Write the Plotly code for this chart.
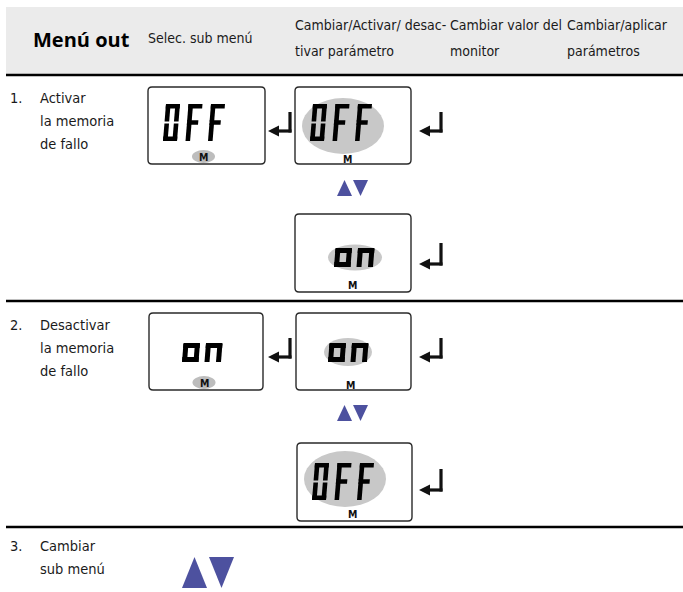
import plotly.graph_objects as go

# ---------------- data (texts / states) ----------------
title_label = "Menú out"
column_labels = [
    ["Selec. sub menú"],
    ["Cambiar/Activar/ desac-", "tivar parámetro"],
    ["Cambiar valor del", "monitor"],
    ["Cambiar/aplicar", "parámetros"],
]
row_numbers = ["1.", "2.", "3."]
row_labels = [
    ["Activar", "la memoria", "de fallo"],
    ["Desactivar", "la memoria", "de fallo"],
    ["Cambiar", "sub menú"],
]
display_values = ["OFF", "OFF", "on", "on", "on", "OFF"]
display_highlight = ["M", "value", "value", "M", "value", "value"]
indicator_label = "M"

# ---------------- layout constants ----------------
W, H = 683, 592
NARROW = "Liberation Sans Narrow, DejaVu Sans Condensed, Arial Narrow, sans-serif"
TXT = "#1a1a1a"
GRAY_BAND = "#ebebeb"
ELL = "#c8c8c8"
TRI = "#4d519f"

display_layout = [
    dict(box=(148, 87, 265, 164), tx=163, ty=141, ell=(203.5, 156.5, 11.5, 6.5), m=(203.5, 157)),
    dict(box=(295, 87, 411, 164), tx=310, ty=141, ell=(343, 126, 41, 28), m=(347, 159)),
    dict(box=(295, 214, 411, 292), tx=334, ty=267, ell=(355, 257.5, 27, 13), m=(352, 285)),
    dict(box=(149, 313, 263, 390), tx=182, ty=362, ell=(204, 382.5, 11.5, 6.5), m=(204, 383)),
    dict(box=(296, 313, 411, 390), tx=328, ty=362, ell=(348, 352, 24, 14), m=(350, 385)),
    dict(box=(297, 443, 412, 521), tx=312, ty=500, ell=(345, 479, 41, 28), m=(352, 514)),
]
enter_layout = [(290, 112, 131), (441, 112, 131), (441, 243, 264),
                (290, 338, 357), (441, 338, 357), (441, 469, 490)]
tri_layout = [(337, 180, 15, 16, 1), (337, 405, 15, 16, 1), (182, 557, 25, 31, 2)]
sep_lines = [75, 301, 527]

SEGS = {"O": "abcdef", "F": "aefg", "o": "cdeg", "n": "ceg"}

shapes = []
annotations = []


def poly(pts, color):
    d = "M " + " L ".join(f"{x:.2f},{y:.2f}" for x, y in pts) + " Z"
    shapes.append(dict(type="path", path=d, fillcolor=color, line=dict(width=0),
                       xref="x", yref="y"))


def glyph(ch, x0, ybot, w, h, t, sl):
    ytop = ybot - h
    g = 0.9

    def tr(u, v):
        return (x0 + u + sl * (h - v) / h, ytop + v)

    rects = {
        "a": (0, w, 0, t),
        "b": (w - t, w, 0, h / 2 - g),
        "c": (w - t, w, h / 2 + g, h),
        "d": (0, w, h - t, h),
        "e": (0, t, h / 2 + g, h),
        "f": (0, t, 0, h / 2 - g),
        "g": (0, w if ch != "F" else 0.8 * w, h / 2 - t / 2, h / 2 + t / 2),
    }
    if ch in ("o", "n"):
        rects["g"] = (0, w, h / 2, h / 2 + t)
    for s in SEGS[ch]:
        u1, u2, v1, v2 = rects[s]
        poly([tr(u1, v1), tr(u2, v1), tr(u2, v2), tr(u1, v2)], "#000000")


def rounded_box(x0, y0, x1, y1, r=4):
    p = (f"M {x0+r},{y0} L {x1-r},{y0} Q {x1},{y0} {x1},{y0+r} L {x1},{y1-r} "
         f"Q {x1},{y1} {x1-r},{y1} L {x0+r},{y1} Q {x0},{y1} {x0},{y1-r} "
         f"L {x0},{y0+r} Q {x0},{y0} {x0+r},{y0} Z")
    shapes.append(dict(type="path", path=p, fillcolor="white",
                       line=dict(color="#2a2a2a", width=1.4), xref="x", yref="y"))


def ellipse(cx, cy, rx, ry, color):
    shapes.append(dict(type="circle", x0=cx - rx, x1=cx + rx, y0=cy - ry, y1=cy + ry,
                       fillcolor=color, line=dict(width=0), xref="x", yref="y"))


def text(x, y, s, size, family=NARROW, color=TXT, xanchor="left", weight=None):
    f = dict(family=family, size=size, color=color)
    if weight:
        f["weight"] = weight
    annotations.append(dict(x=x, y=y, xref="x", yref="y", text=s, showarrow=False,
                            xanchor=xanchor, yanchor="middle", font=f, borderpad=0))


# header band
shapes.append(dict(type="rect", x0=6, x1=683, y0=7, y1=74, fillcolor=GRAY_BAND,
                   line=dict(width=0), xref="x", yref="y"))
for yl in sep_lines:
    shapes.append(dict(type="line", x0=6, x1=683, y0=yl, y1=yl,
                       line=dict(color="#000000", width=2.6), xref="x", yref="y"))

text(32, 39, title_label, 20, family="Open Sans, Liberation Sans, sans-serif",
     color="#000000", weight=700)
col_x = [147, 294, 449, 566]
for cx, lines in zip(col_x, column_labels):
    if len(lines) == 1:
        text(cx, 38, lines[0], 14)
    else:
        for i, ln in enumerate(lines):
            text(cx, 25 + 26 * i, ln, 14)

row_y = [98, 325, 546]
for ry, num, labels in zip(row_y, row_numbers, row_labels):
    text(9, ry, num, 14.5)
    for i, ln in enumerate(labels):
        text(39, ry + 23 * i, ln, 14.5)

# displays
for val, hl, lay in zip(display_values, display_highlight, display_layout):
    rounded_box(*lay["box"])
    cx, cy, rx, ry = lay["ell"]
    ellipse(cx, cy, rx, ry, ELL if hl == "value" else "#bdbdbd")
    if val == "OFF":
        w, h, t, sl, pitch = 14, 37, 4.6, 3, 22.5
        chars = ["O", "F", "F"]
    else:
        w, h, t, sl, pitch = 16.5, 38, 5, 3, 22.5
        chars = list(val)
    for i, ch in enumerate(chars):
        glyph(ch, lay["tx"] + pitch * i, lay["ty"], w, h, t, sl)
    mx, my = lay["m"]
    text(mx, my, f"<b>{indicator_label}</b>", 10.5, family="DejaVu Sans Condensed, Arial, sans-serif",
         color="#111111", xanchor="center")

# enter arrows
for xr, yt, yb in enter_layout:
    shapes.append(dict(type="line", x0=xr, x1=xr, y0=yt, y1=yb + 1.5,
                       line=dict(color="#111111", width=3.2), xref="x", yref="y"))
    shapes.append(dict(type="line", x0=xr + 1.5, x1=xr - 13, y0=yb, y1=yb,
                       line=dict(color="#111111", width=3.2), xref="x", yref="y"))
    poly([(xr - 22, yb), (xr - 11, yb - 5.5), (xr - 11, yb + 5.5)], "#111111")

# up/down triangles
for x0, y0, tw, th, gap in tri_layout:
    poly([(x0, y0 + th), (x0 + tw / 2, y0), (x0 + tw, y0 + th)], TRI)
    x1 = x0 + tw + gap
    poly([(x1, y0), (x1 + tw, y0), (x1 + tw / 2, y0 + th)], TRI)

fig = go.Figure()
fig.update_layout(
    width=W, height=H, margin=dict(l=0, r=0, t=0, b=0),
    paper_bgcolor="white", plot_bgcolor="white",
    xaxis=dict(range=[0, W], visible=False, fixedrange=True),
    yaxis=dict(range=[H, 0], visible=False, fixedrange=True),
    shapes=shapes, annotations=annotations, showlegend=False,
)
fig.write_html("out.html", config={"displayModeBar": False},
               post_script="document.body.style.margin='0';document.body.style.overflow='hidden';")
